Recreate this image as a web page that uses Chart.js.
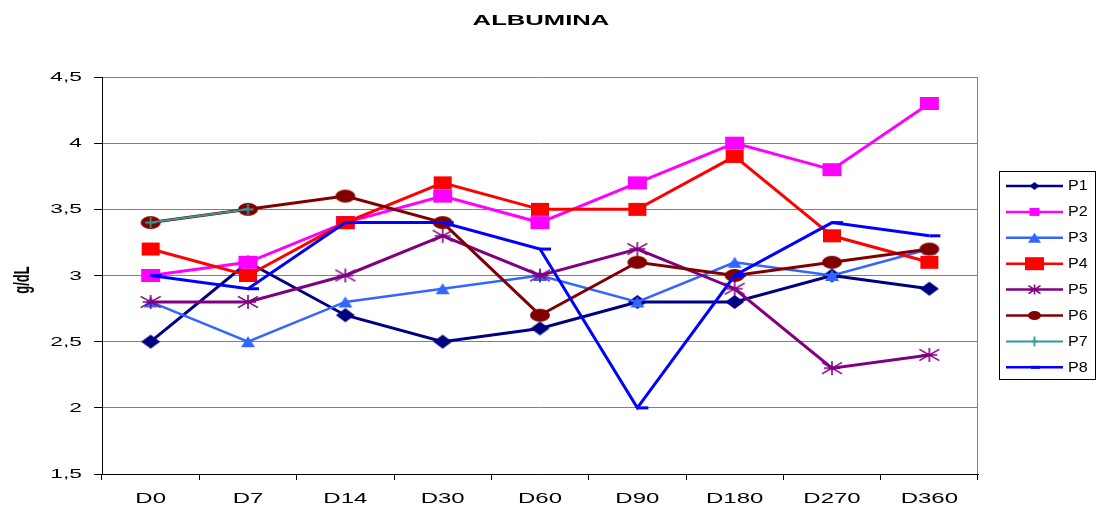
<!DOCTYPE html>
<html>
<head>
<meta charset="utf-8">
<script src="https://cdn.jsdelivr.net/npm/chart.js@4.4.1/dist/chart.umd.min.js"></script>
<style>
  html, body { margin: 0; padding: 0; background: #ffffff; }
  canvas { display: block; }
</style>
</head>
<body>
<canvas id="chart" width="1096" height="510" style="width:1096px;height:510px"></canvas>
<script>
// Albumin follow-up per patient (g/dL)
const categories = ['D0', 'D7', 'D14', 'D30', 'D60', 'D90', 'D180', 'D270', 'D360'];
const seriesNames = ['P1', 'P2', 'P3', 'P4', 'P5', 'P6', 'P7', 'P8'];
const p1 = [2.5, 3.1, 2.7, 2.5, 2.6, 2.8, 2.8, 3.0, 2.9];
const p2 = [3.0, 3.1, 3.4, 3.6, 3.4, 3.7, 4.0, 3.8, 4.3];
const p3 = [2.8, 2.5, 2.8, 2.9, 3.0, 2.8, 3.1, 3.0, 3.2];
const p4 = [3.2, 3.0, 3.4, 3.7, 3.5, 3.5, 3.9, 3.3, 3.1];
const p5 = [2.8, 2.8, 3.0, 3.3, 3.0, 3.2, 2.9, 2.3, 2.4];
const p6 = [3.4, 3.5, 3.6, 3.4, 2.7, 3.1, 3.0, 3.1, 3.2];
const p7 = [3.4, 3.5, null, null, null, null, null, null, null];
const p8 = [3.0, 2.9, 3.4, 3.4, 3.2, 2.0, 3.0, 3.4, 3.3];
const yTickValues = [1.5, 2, 2.5, 3, 3.5, 4, 4.5];
const yTickLabels = ['1,5', '2', '2,5', '3', '3,5', '4', '4,5'];
const chartTitle = 'ALBUMINA';
const yAxisTitle = 'g/dL';

const FONT = "'Liberation Sans', Arial, sans-serif";

// Per-series look: colour, line width, marker shape and sizes (plot / legend)
const styles = [
  { color: '#000080', lw: 3,   kind: 'diamond',  w: 19, h: 14, lgw: 10, lgh: 8 },
  { color: '#FF00FF', lw: 3,   kind: 'square',   w: 19, h: 13, lgw: 10, lgh: 8 },
  { color: '#3366FF', lw: 2.5, kind: 'triangle', w: 14, h: 11, lgw: 13, lgh: 10 },
  { color: '#FF0000', lw: 3,   kind: 'square',   w: 18, h: 13, lgw: 19, lgh: 13 },
  { color: '#800080', lw: 3,   kind: 'star',     w: 20, h: 14, lgw: 12, lgh: 10 },
  { color: '#800000', lw: 3,   kind: 'circle',   w: 20, h: 13, lgw: 13, lgh: 9 },
  { color: '#339999', lw: 2,   kind: 'plus',     w: 11, h: 11, lgw: 6,  lgh: 10 },
  { color: '#0000FF', lw: 3,   kind: 'dash',     w: 11, h: 3,  lgw: 9,  lgh: 3 }
];
const seriesData = [p1, p2, p3, p4, p5, p6, p7, p8];

function drawMarker(g, kind, x, y, w, h, color) {
  const hw = w / 2, hh = h / 2;
  g.save();
  g.fillStyle = color;
  g.strokeStyle = color;
  g.beginPath();
  switch (kind) {
    case 'diamond':
      g.moveTo(x - hw, y); g.lineTo(x, y - hh); g.lineTo(x + hw, y); g.lineTo(x, y + hh);
      g.closePath(); g.fill();
      break;
    case 'square':
      g.fillRect(x - hw, y - hh, w, h);
      break;
    case 'triangle':
      g.moveTo(x, y - hh); g.lineTo(x + hw, y + hh); g.lineTo(x - hw, y + hh);
      g.closePath(); g.fill();
      break;
    case 'circle':
      g.ellipse(x, y, hw, hh, 0, 0, Math.PI * 2); g.fill();
      break;
    case 'star':
      g.lineWidth = 1.6;
      g.moveTo(x, y - hh); g.lineTo(x, y + hh);
      g.moveTo(x - hw, y - hh * 0.8); g.lineTo(x + hw, y + hh * 0.8);
      g.moveTo(x - hw, y + hh * 0.8); g.lineTo(x + hw, y - hh * 0.8);
      g.moveTo(x - hw * 0.8, y); g.lineTo(x + hw * 0.8, y);
      g.stroke();
      break;
    case 'plus':
      g.lineWidth = 1.8;
      g.moveTo(x, y - hh); g.lineTo(x, y + hh);
      g.moveTo(x - hw, y); g.lineTo(x + hw, y);
      g.stroke();
      break;
    case 'dash':
      g.lineWidth = h;
      g.moveTo(x, y); g.lineTo(x + w, y);
      g.stroke();
      break;
  }
  g.restore();
}

function makeMarker(s) {
  const pad = 3;
  const c = document.createElement('canvas');
  c.width = Math.ceil((s.kind === 'dash' ? 2 * s.w : s.w) + 2 * pad);
  c.height = Math.ceil(s.h + 2 * pad);
  drawMarker(c.getContext('2d'), s.kind, c.width / 2, c.height / 2, s.w, s.h, s.color);
  return c;
}

const datasets = seriesNames.map((name, i) => ({
  label: name,
  data: seriesData[i],
  borderColor: styles[i].color,
  backgroundColor: styles[i].color,
  borderWidth: styles[i].lw,
  pointStyle: makeMarker(styles[i]),
  pointRadius: 6,
  pointHoverRadius: 6,
  tension: 0,
  spanGaps: false,
  clip: false,
  order: seriesNames.length - i   // later series painted on top
}));

// Text drawn with a horizontal stretch (the chart's wide lettering)
function wideText(ctx, text, x, y, sx, font, align) {
  ctx.save();
  ctx.translate(x, y);
  ctx.scale(sx, 1);
  ctx.font = font;
  ctx.textAlign = align;
  ctx.textBaseline = 'middle';
  ctx.fillText(text, 0, 0);
  ctx.restore();
}

// Title, axis texts, frame edge and legend
const decorPlugin = {
  id: 'decor',
  afterDraw(chart) {
    const ctx = chart.ctx;
    const area = chart.chartArea;
    const xs = chart.scales.x;
    const ys = chart.scales.y;

    ctx.save();
    // right edge of the plot frame
    ctx.strokeStyle = '#808080';
    ctx.lineWidth = 1;
    ctx.beginPath();
    ctx.moveTo(Math.round(area.right) - 0.5, area.top);
    ctx.lineTo(Math.round(area.right) - 0.5, area.bottom);
    ctx.stroke();

    ctx.fillStyle = '#000';
    // chart title
    wideText(ctx, chartTitle, 541, 21, 1.71, 'bold 15px ' + FONT, 'center');

    // y axis title
    ctx.save();
    ctx.translate(22.5, 280);
    ctx.scale(1.75, 1);
    ctx.rotate(-Math.PI / 2);
    ctx.font = 'bold 13px ' + FONT;
    ctx.textAlign = 'center';
    ctx.textBaseline = 'middle';
    ctx.fillText(yAxisTitle, 0, 0);
    ctx.restore();

    // value labels on the y axis
    ys.ticks.forEach((t, i) => {
      wideText(ctx, yTickLabels[i], 82, ys.getPixelForValue(t.value) + 0.5, 1.75, '13px ' + FONT, 'right');
    });

    // category labels
    chart.data.labels.forEach((lab, i) => {
      wideText(ctx, lab, xs.getPixelForTick(i), 499, 1.6, '15px ' + FONT, 'center');
    });

    // legend
    const bx = 999.5, by = 171.5, bw = 96, bh = 208;
    ctx.strokeStyle = '#000';
    ctx.lineWidth = 1;
    ctx.strokeRect(bx, by, bw, bh);
    seriesNames.forEach((name, i) => {
      const s = styles[i];
      const y = 186 + i * 25.9;
      ctx.strokeStyle = s.color;
      ctx.lineWidth = s.kind === 'plus' ? 2 : 2.5;
      ctx.beginPath();
      ctx.moveTo(1006, y);
      ctx.lineTo(1063, y);
      ctx.stroke();
      const mx = s.kind === 'dash' ? 1031 : 1034.5;
      drawMarker(ctx, s.kind, mx, y, s.lgw, s.lgh, s.color);
      ctx.fillStyle = '#000';
      wideText(ctx, name, 1068, y + 0.5, 1.15, '14px ' + FONT, 'left');
    });
    ctx.restore();
  }
};

new Chart(document.getElementById('chart'), {
  type: 'line',
  data: { labels: categories, datasets },
  options: {
    responsive: false,
    animation: false,
    devicePixelRatio: 1,
    events: [],
    layout: { padding: { top: 77, right: 118, left: 0, bottom: 0 } },
    plugins: {
      legend: { display: false },
      title: { display: false },
      tooltip: { enabled: false }
    },
    scales: {
      x: {
        type: 'category',
        offset: true,
        grid: { offset: true, drawOnChartArea: false, drawTicks: true, tickLength: 6, tickColor: '#000' },
        border: { color: '#000', width: 1 },
        ticks: { display: false },
        afterFit(scale) { scale.height = 36; }
      },
      y: {
        min: 1.5,
        max: 4.5,
        afterBuildTicks(scale) { scale.ticks = yTickValues.map(v => ({ value: v })); },
        ticks: { display: false },
        grid: { color: '#808080', lineWidth: 1, tickLength: 8, tickColor: '#000' },
        border: { color: '#000', width: 1 },
        afterFit(scale) { scale.width = 102; }
      }
    }
  },
  plugins: [decorPlugin]
});
</script>
</body>
</html>
